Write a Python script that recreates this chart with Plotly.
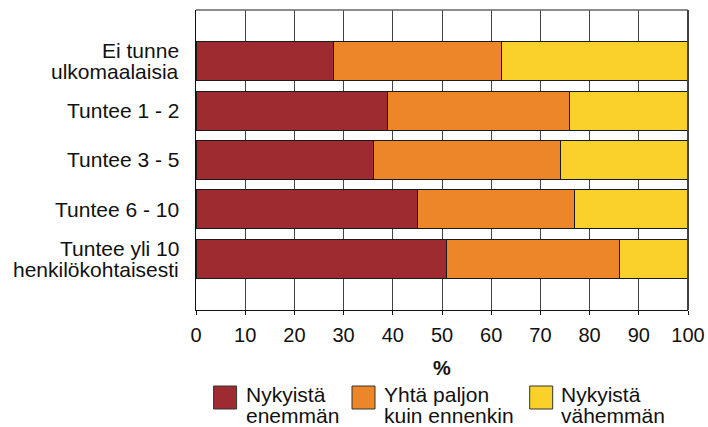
import plotly.graph_objects as go

categories = ["Ei tunne<br>ulkomaalaisia", "Tuntee 1 - 2", "Tuntee 3 - 5", "Tuntee 6 - 10",
              "Tuntee yli 10<br>henkilökohtaisesti"]
enemman = [28, 39, 36, 45, 51]
yhta = [34, 37, 38, 32, 35]
vahemman = [38, 24, 26, 23, 14]
series_names = [["Nykyistä", "enemmän"], ["Yhtä paljon", "kuin ennenkin"], ["Nykyistä", "vähemmän"]]
colors = ["#9E2B30", "#EC8628", "#FAD02A"]
x_ticks = list(range(0, 101, 10))

W, H = 708, 427
L, R, T, B = 196, 688, 10, 310  # plot area in window pixels
FONT = "Liberation Sans, Arial, sans-serif"

def px(x):
    return (x - L) / (R - L)

def py(y):
    return (B - y) / (B - T)

fig = go.Figure()
for vals, c in zip([enemman, yhta, vahemman], colors):
    fig.add_trace(go.Bar(
        y=categories, x=vals, orientation="h", marker=dict(color=c, line=dict(color="#1a1a1a", width=1)),
        width=0.79, showlegend=False, hoverinfo="skip"))

shapes = [
    dict(type="line", xref="paper", yref="paper", x0=0, x1=1, y0=1, y1=1, line=dict(color="#666", width=1.5)),
    dict(type="line", xref="paper", yref="paper", x0=1, x1=1, y0=0, y1=1, line=dict(color="#444", width=2)),
]
annotations = []
# category labels, one annotation per line for tight leading
CAT_SP = 21
for cat in categories:
    lines = cat.split("<br>")
    n = len(lines)
    for j, line in enumerate(lines):
        annotations.append(dict(xref="paper", yref="y", x=0, y=cat, xshift=-15,
                                yshift=((n - 1) / 2 - j) * CAT_SP, xanchor="right", yanchor="middle",
                                text=line, showarrow=False, font=dict(family=FONT, size=21, color="#111")))
# legend
box_x = [213.6, 352, 529.7]
text_x = [244, 382, 559]
for i in range(3):
    shapes.append(dict(type="rect", xref="paper", yref="paper", x0=px(box_x[i]), x1=px(box_x[i] + 23),
                       y0=py(386), y1=py(409), fillcolor=colors[i], line=dict(color="#333", width=1)))
    for j, line in enumerate(series_names[i]):
        annotations.append(dict(xref="paper", yref="paper", x=px(text_x[i]), y=py(394 + j * 21),
                                xanchor="left", yanchor="middle", text=line, showarrow=False,
                                font=dict(family=FONT, size=21, color="#111")))

fig.update_layout(
    width=W, height=H, barmode="stack",
    margin=dict(l=L, r=W - R, t=T, b=H - B, autoexpand=False),
    plot_bgcolor="white", paper_bgcolor="white",
    font=dict(family=FONT, size=20, color="#111"),
    xaxis=dict(range=[0, 100], tickvals=x_ticks, showgrid=True, gridcolor="#444", gridwidth=1,
               showline=True, linecolor="#111", linewidth=1, ticks="outside", ticklen=4, tickcolor="#111",
               zeroline=False, tickfont=dict(size=20), ticklabelstandoff=3,
               title=dict(text="<b>%</b>", font=dict(size=20), standoff=15)),
    yaxis=dict(categoryorder="array", categoryarray=categories, range=[5.037, -1.035],
               showline=True, linecolor="#111", linewidth=1, showgrid=False, ticks="",
               showticklabels=False),
    shapes=shapes, annotations=annotations,
)
fig.write_html("out.html", config={"displayModeBar": False, "staticPlot": True},
               post_script="document.body.style.margin='0';document.body.style.overflow='hidden';")
